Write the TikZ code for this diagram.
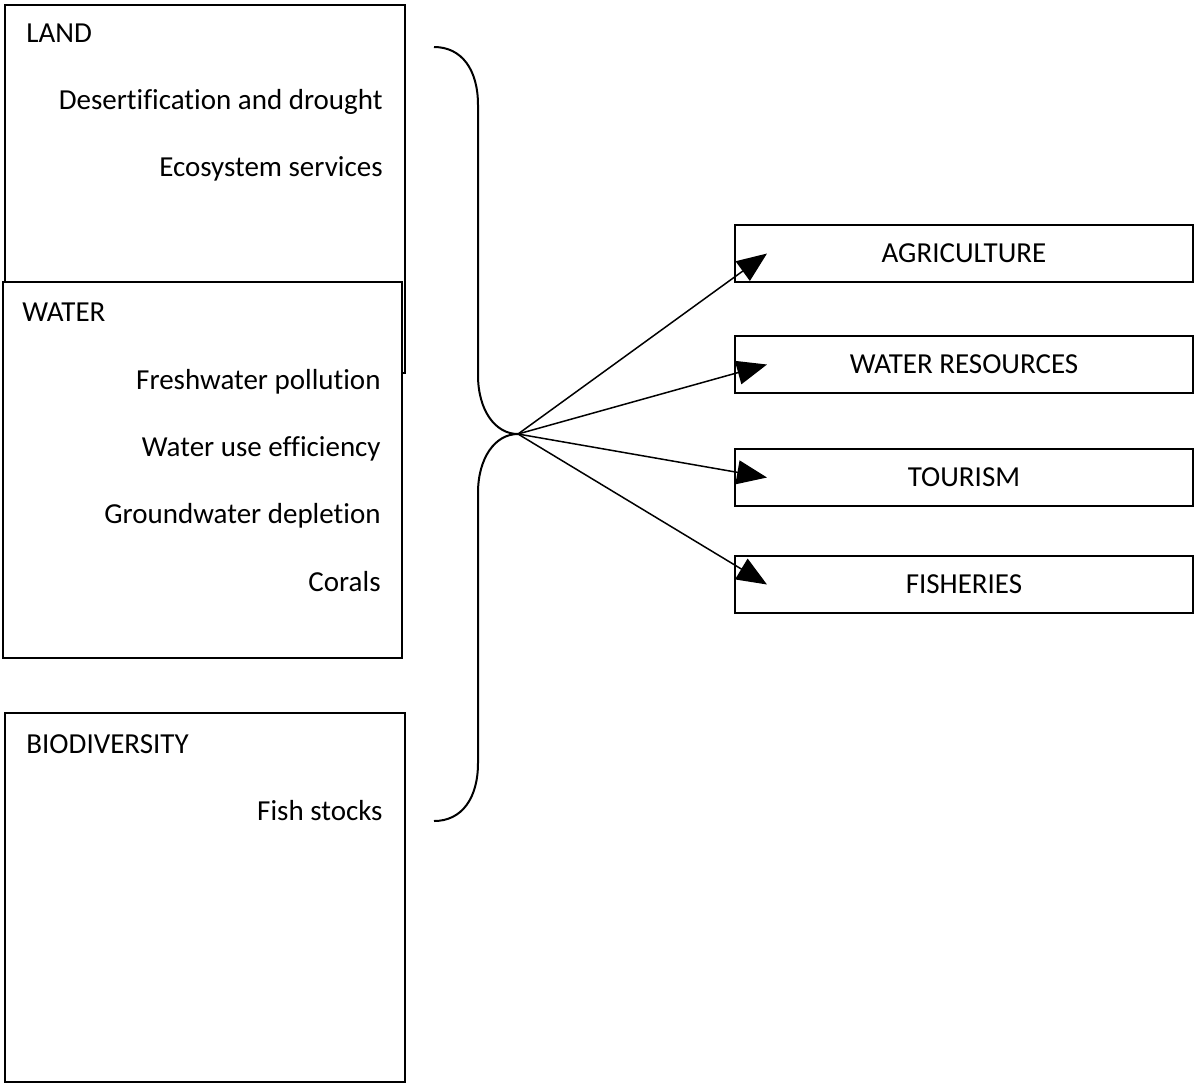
\documentclass[tikz,border=0pt]{standalone}
\usepackage{fontspec}
\setmainfont{Carlito}[Ligatures={NoCommon,NoRare}]
\usetikzlibrary{arrows.meta,positioning}
\tikzset{
  panel/.style={draw,fill=white,line width=1pt,inner sep=0pt,minimum width=200pt},
  sector/.style={draw,line width=1pt,inner sep=0pt,minimum width=229pt,minimum height=28.5pt,font=\fontsize{14.5}{17}\selectfont},
  heading/.style={anchor=base west,inner sep=0pt,font=\fontsize{14.5}{17}\selectfont},
  issue/.style={anchor=base east,inner sep=0pt,font=\fontsize{14.5}{17}\selectfont}
}

\begin{document}
\begin{tikzpicture}[x=0.5pt,y=-0.5pt,>={Triangle[length=15pt,width=12pt]}]
    \useasboundingbox (0,0) rectangle (1195,1084);

    % thematic areas
    \node[panel,minimum height=184pt] (land) at (205,189) {};
    \node[panel,minimum width=199.5pt,minimum height=188pt] (water) at (202.5,470) {};
    \node[panel,minimum height=184.5pt] (bio) at (205,897.5) {};

    \node[heading] (landT) at (26,42) {LAND};
    \node[heading] (waterT) at (22,321) {WATER};
    \node[heading] (bioT) at (26,753) {BIODIVERSITY};

    \foreach \idx/\txt/\y in {1/Desertification and drought/109,2/Ecosystem services/176} {
      \node[issue] (landI\idx) at (383,\y) {\txt};
    }
    \foreach \idx/\txt/\y in {1/Freshwater pollution/389,2/Water use efficiency/456,3/Groundwater depletion/523,4/Corals/591} {
      \node[issue] (waterI\idx) at (381,\y) {\txt};
    }
    \node[issue] (bioI1) at (383,820) {Fish stocks};

    % brace
    \coordinate (braceTop) at (434,47);
    \coordinate (hub) at (518,434);
    \coordinate (braceBot) at (434,821);
    \draw[line width=1pt] (braceTop) .. controls (462,47) and (478,70) .. (478,105) -- (478,375)
      .. controls (478,410) and (495,434) .. (hub);
    \draw[line width=1pt] (hub) .. controls (495,434) and (478,458) .. (478,493) -- (478,763)
      .. controls (478,798) and (462,821) .. (braceBot);

    % sectors
    \foreach \name/\txt/\y in {agri/AGRICULTURE/253.5,res/WATER RESOURCES/364.5,tour/TOURISM/477.5,fish/FISHERIES/584.5} {
      \node[sector] (\name) at (964,\y) {\txt};
      \coordinate (\name Tip) at (767,\y);
      \draw[->,line width=0.75pt] (hub) -- (\name Tip);
    }
  \end{tikzpicture}
\end{document}
